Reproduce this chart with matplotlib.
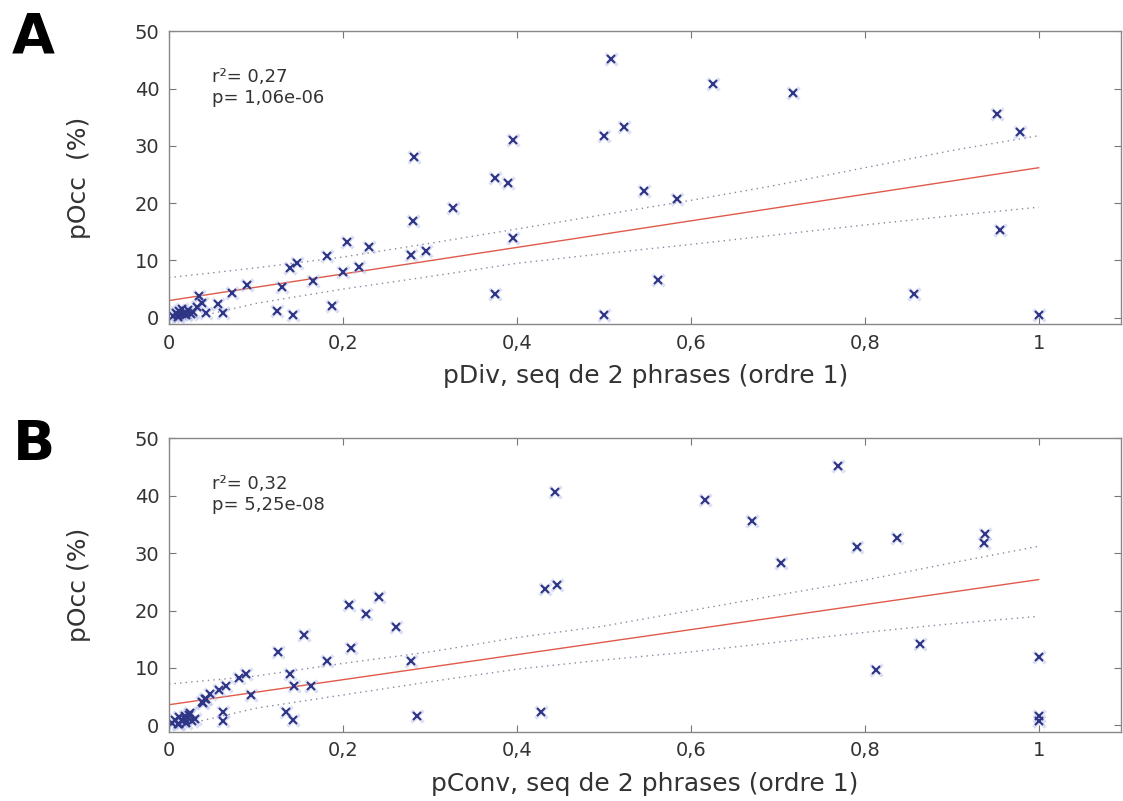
import matplotlib
matplotlib.use("Agg")
import matplotlib.pyplot as plt

# panel A : pDiv vs pOcc
pdiv = [0.5085, 0.625, 0.717, 0.952, 0.979, 0.5, 0.523, 0.546, 0.584, 0.955, 0.5625, 0.857, 0.5, 1.0,
        0.395, 0.282, 0.375, 0.39, 0.326, 0.281, 0.396, 0.205, 0.23, 0.182, 0.278, 0.296, 0.147, 0.139,
        0.218, 0.2, 0.166, 0.09, 0.13, 0.072, 0.375, 0.187, 0.124, 0.142, 0.062, 0.056, 0.043, 0.034,
        0.038, 0.032,
        0.005, 0.008, 0.01, 0.012, 0.015, 0.018, 0.02, 0.022, 0.025, 0.028, 0.01, 0.015, 0.02]
pocc_a = [45.2, 40.8, 39.2, 35.5, 32.5, 31.8, 33.3, 22.1, 20.7, 15.4, 6.5, 4.1, 0.5, 0.5,
          31.1, 28.1, 24.4, 23.6, 19.1, 16.9, 14.0, 13.3, 12.4, 10.8, 10.9, 11.7, 9.5, 8.6,
          8.8, 8.0, 6.4, 5.7, 5.3, 4.3, 4.2, 2.0, 1.2, 0.5, 0.8, 2.4, 0.9, 3.8,
          2.6, 1.8,
          0.3, 0.8, 0.5, 1.2, 0.6, 0.9, 0.4, 1.3, 0.7, 1.0, 0.2, 1.5, 0.9]

# panel B : pConv vs pOcc
pconv = [0.4437, 0.432, 0.446, 0.207, 0.226, 0.241, 0.261, 0.155, 0.125, 0.209, 0.182, 0.278, 0.139,
         0.0885, 0.081, 0.066, 0.058, 0.094, 0.144, 0.163, 0.043, 0.039, 0.135, 0.143, 0.062, 0.062,
         0.285, 0.428,
         0.7687, 0.6166, 0.67, 0.938, 0.937, 0.8368, 0.791, 0.704, 0.8636, 0.8126, 1.0, 1.0, 1.0,
         0.038, 0.041, 0.047,
         0.004, 0.007, 0.01, 0.012, 0.015, 0.018, 0.02, 0.023, 0.026, 0.03, 0.012, 0.018, 0.024]
pocc_b = [40.7, 23.7, 24.4, 20.9, 19.4, 22.3, 17.1, 15.7, 12.7, 13.5, 11.3, 11.3, 9.0,
          9.0, 8.3, 6.8, 6.1, 5.3, 6.8, 6.8, 4.6, 3.9, 2.3, 0.9, 2.3, 0.8,
          1.6, 2.3,
          45.2, 39.3, 35.6, 33.4, 31.8, 32.6, 31.1, 28.2, 14.2, 9.7, 11.9, 1.6, 0.8,
          4.0, 4.6, 5.4,
          0.4, 0.9, 0.3, 1.4, 0.7, 1.1, 0.5, 1.8, 0.8, 1.2, 0.2, 1.6, 2.1]

# regression lines and confidence bands
fit_x = [0, 1]
fit_a = [3.0, 26.2]
fit_b = [3.6, 25.4]
band_x = [0, 0.1, 0.2, 0.3, 0.4, 0.5, 0.6, 0.7, 0.8, 0.9, 1.0]
upper_a = [7.0, 8.7, 10.6, 13.0, 15.5, 18.0, 20.5, 23.2, 26.2, 29.2, 31.8]
lower_a = [-1.0, 2.5, 5.0, 7.2, 9.5, 11.2, 12.8, 14.5, 16.2, 17.8, 19.3]
upper_b = [7.2, 8.6, 10.8, 12.8, 15.3, 17.3, 20.0, 22.7, 25.3, 28.3, 31.2]
lower_b = [-0.5, 3.0, 5.3, 7.6, 9.8, 11.4, 12.8, 14.5, 16.2, 17.7, 19.0]

xticks = [0, 0.2, 0.4, 0.6, 0.8, 1]
xticklabels = ["0", "0,2", "0,4", "0,6", "0,8", "1"]
yticks = [0, 10, 20, 30, 40, 50]

panels = [
    ("A", pdiv, pocc_a, fit_a, upper_a, lower_a, "pDiv, seq de 2 phrases (ordre 1)", "pOcc  (%)",
     "r\u00b2= 0,27\np= 1,06e-06", [0.1505, 0.5955, 0.848, 0.3652]),
    ("B", pconv, pocc_b, fit_b, upper_b, lower_b, "pConv, seq de 2 phrases (ordre 1)", "pOcc (%)",
     "r\u00b2= 0,32\np= 5,25e-08", [0.1505, 0.0865, 0.848, 0.3663]),
]

plt.rcParams["font.family"] = "DejaVu Sans"
fig = plt.figure(figsize=(11.23, 8.01), dpi=100)

for letter, xs, ys, fit, up, lo, xlab, ylab, stats, pos in panels:
    ax = fig.add_axes(pos)
    ax.plot(band_x, up, linestyle=(0, (1, 3)), color="#555577", lw=1.0, alpha=0.7)
    ax.plot(band_x, lo, linestyle=(0, (1, 3)), color="#555577", lw=1.0, alpha=0.7)
    ax.plot(fit_x, fit, color="#e05a4a", lw=1.0)
    # faint halo like the jpeg, then the crosses
    ax.plot(xs, ys, "x", color="#b8c0e8", ms=8, mew=2.5, alpha=0.5, linestyle="none")
    ax.plot(xs, ys, "x", color="#2e3585", ms=5.5, mew=1.5, linestyle="none")
    ax.set_xlim(0, 1.095)
    ax.set_ylim(-1.1, 50)
    ax.set_xticks(xticks)
    ax.set_xticklabels(xticklabels)
    ax.set_yticks(yticks)
    ax.tick_params(direction="in", length=5, width=0.8, color="#777777", labelsize=14,
                   labelcolor="#333333", top=True, right=True, pad=7)
    for sp in ax.spines.values():
        sp.set_color("#888888")
        sp.set_linewidth(1.0)
    ax.set_xlabel(xlab, fontsize=18, color="#333333", labelpad=8)
    ax.set_ylabel(ylab, fontsize=18, color="#333333", labelpad=31)
    ax.text(0.05, 43.6, stats, fontsize=13, color="#333333", va="top", ha="left", linespacing=1.2)
    fig.text(0.03, pos[1] + pos[3] - 0.008, letter, fontsize=40, fontweight="bold",
             ha="center", va="center")

fig.savefig("out.png", dpi=100)
